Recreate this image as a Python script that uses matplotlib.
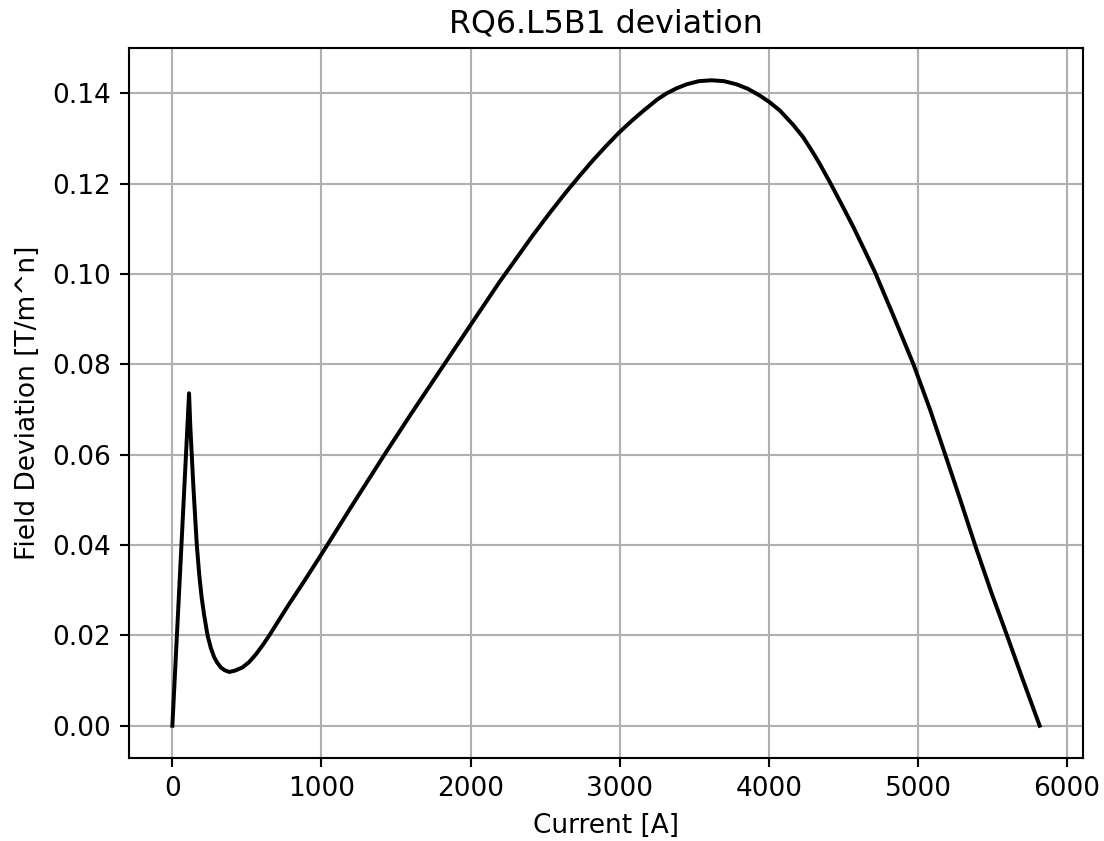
import matplotlib
matplotlib.use("Agg")
import matplotlib.pyplot as plt

# current [A] and field deviation [T/m^n]
current = [0, 112, 120, 130, 140, 150, 164, 180, 196, 213, 236, 258, 280,
           300, 325, 350, 381, 420, 470, 515, 560, 605, 650, 715, 784, 880,
           985, 1052, 1200, 1422, 1600, 1758, 1825, 1981, 2195, 2418, 2530,
           2642, 2730, 2821, 2910, 2995, 3080, 3157, 3250, 3314, 3380, 3448,
           3530, 3616, 3700, 3784, 3860, 3940, 4003, 4074, 4164, 4230, 4298,
           4343, 4410, 4490, 4567, 4640, 4712, 4835, 4970, 5082, 5183, 5283,
           5384, 5490, 5597, 5700, 5816]
deviation = [0.0, 0.0736, 0.0665, 0.060, 0.0535, 0.0478, 0.040, 0.0335,
             0.0285, 0.0245, 0.020, 0.0172, 0.0152, 0.0140, 0.0129, 0.0123,
             0.0119, 0.0122, 0.0129, 0.0141, 0.0158, 0.0178, 0.0200, 0.0234,
             0.0270, 0.0318, 0.0372, 0.0407, 0.0485, 0.0600, 0.0690, 0.0768,
             0.0801, 0.0878, 0.0983, 0.1086, 0.1135, 0.1182, 0.1217, 0.1252,
             0.1284, 0.1313, 0.1339, 0.1361, 0.1386, 0.1400, 0.1411, 0.1420,
             0.1427, 0.1429, 0.1427, 0.1420, 0.1410, 0.1395, 0.1381, 0.1362,
             0.1330, 0.1303, 0.1268, 0.1243, 0.1203, 0.1153, 0.1104, 0.1054,
             0.1004, 0.0908, 0.0800, 0.0699, 0.0600, 0.0501, 0.0399, 0.0297,
             0.0200, 0.0105, 0.0]

dpi = 190
fig = plt.figure(figsize=(1104 / dpi, 841 / dpi), dpi=dpi)
ax = fig.add_axes([129 / 1104, 83 / 841, (1083 - 129) / 1104, (758 - 48) / 841])

ax.plot(current, deviation, color='black')
ax.set_title('RQ6.L5B1 deviation')
ax.set_xlabel('Current [A]')
ax.set_ylabel('Field Deviation [T/m^n]')
ax.grid(True)

fig.savefig('out.png', dpi=dpi)
